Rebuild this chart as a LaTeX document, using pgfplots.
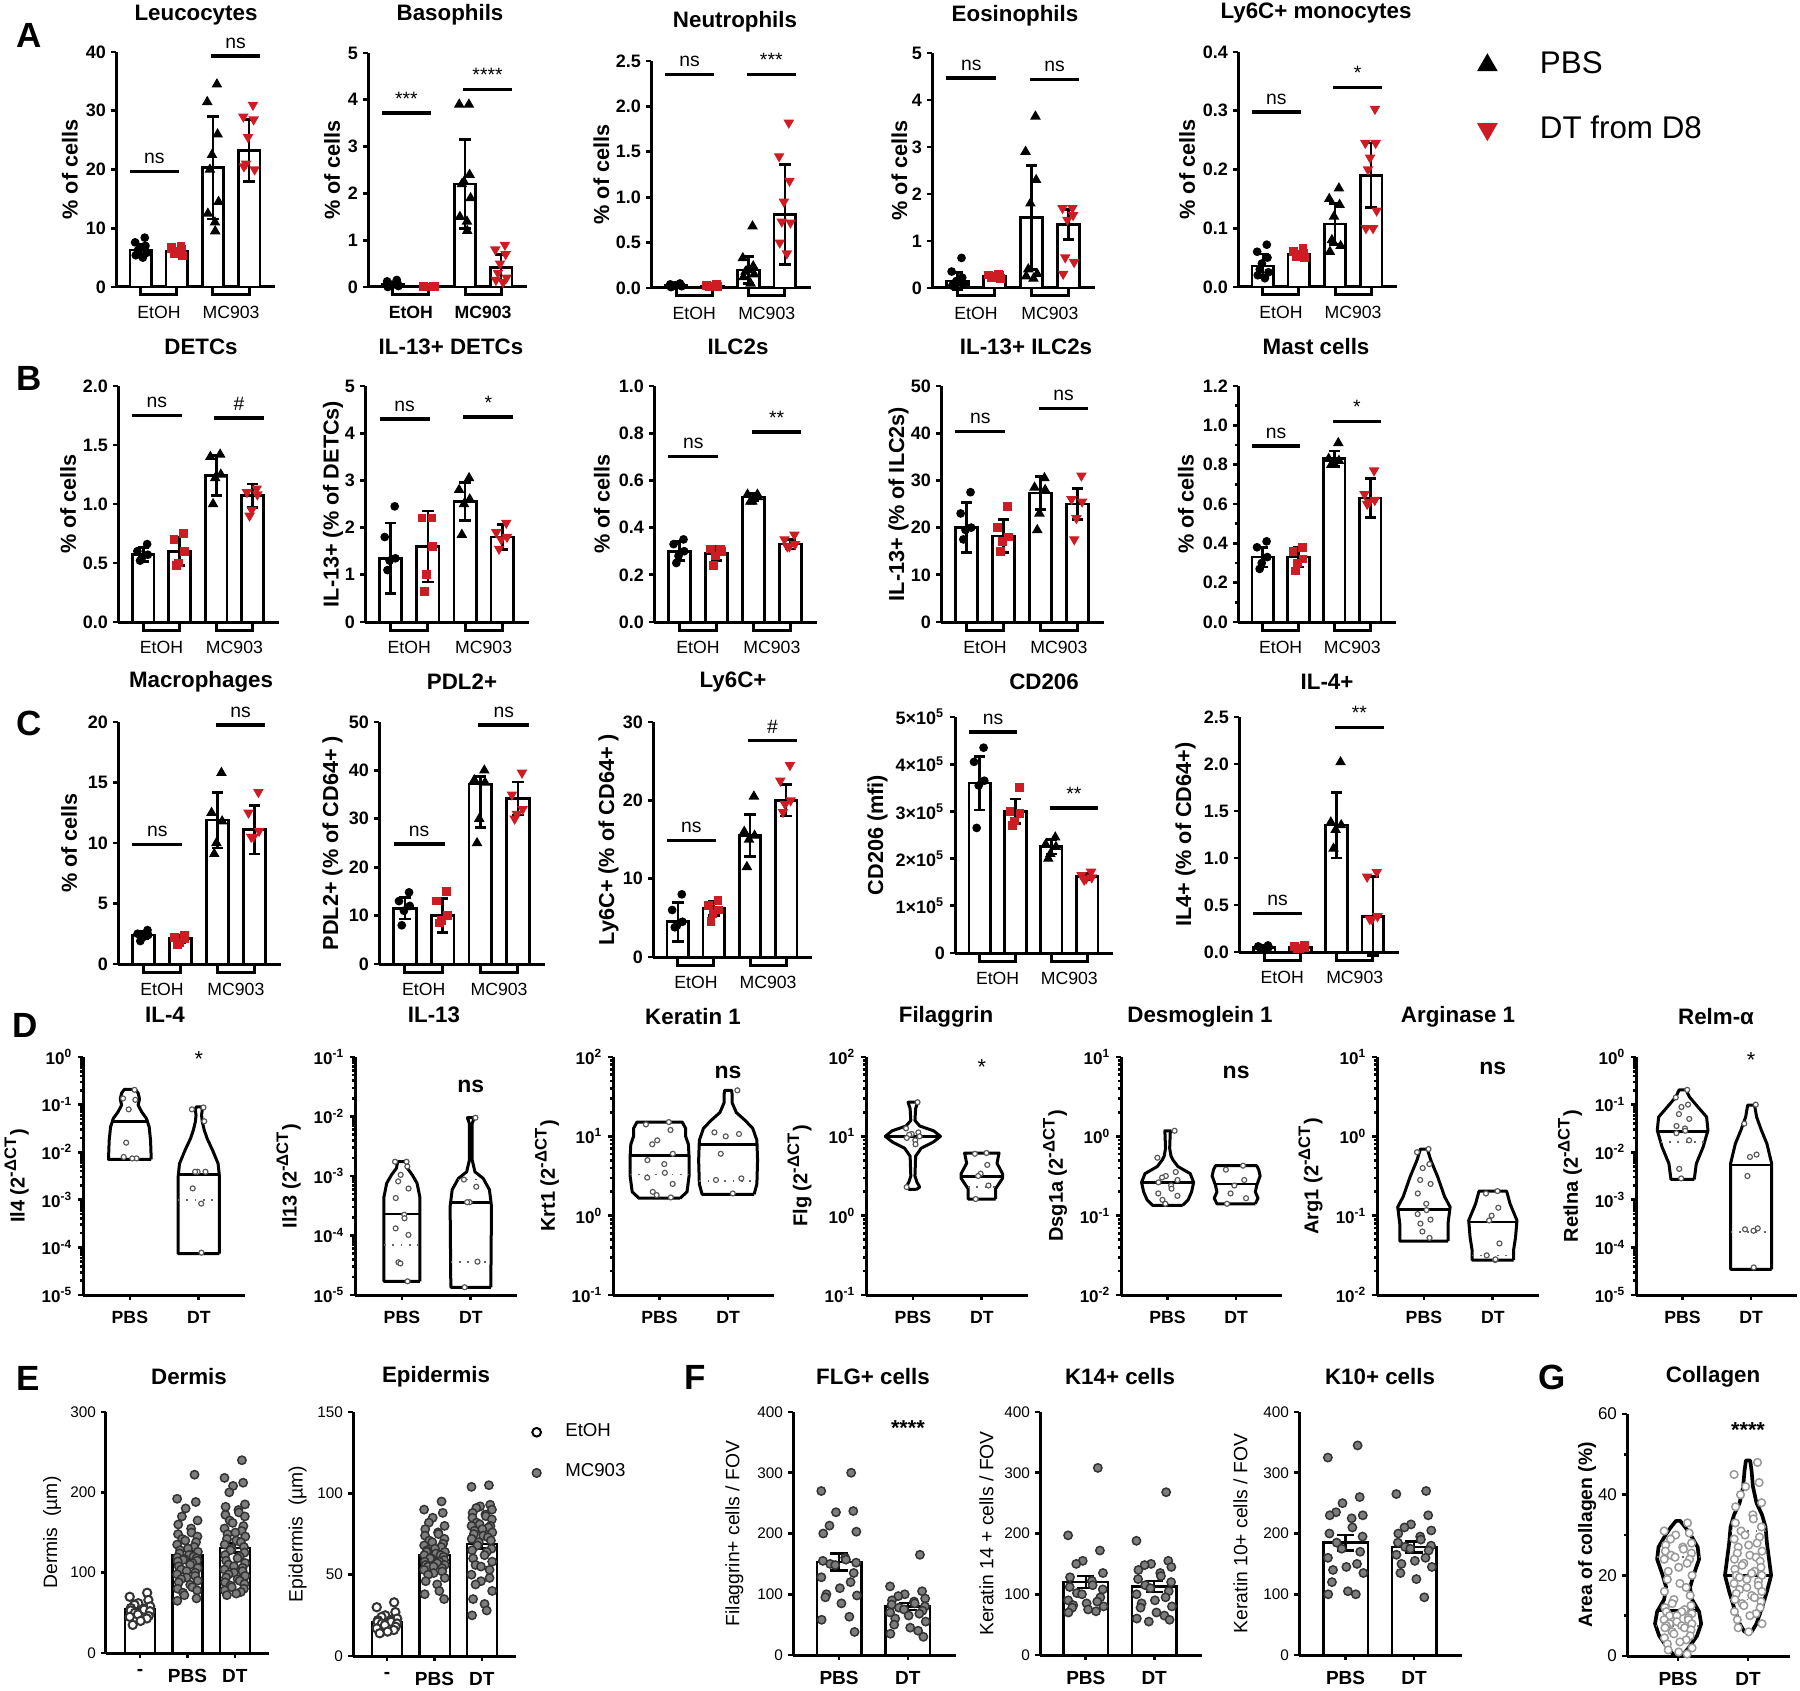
\documentclass[border=0pt]{standalone}
\usepackage{fontspec}
\setmainfont{Liberation Sans}
\usepackage{pgfplots}
\pgfplotsset{compat=1.18}
\definecolor{dred}{RGB}{206,28,36}
\definecolor{pgray}{RGB}{125,125,125}
\newcommand\fs[1]{\fontsize{#1}{#1}\selectfont}
\def\jit{0.16}
\newcommand\pts[3]{%
  \gdef\ptlist{}%
  \foreach \yv [count=\ii] in {#3} {%
    \pgfmathsetmacro\xo{#2+\jit*sin(\ii*137.5)}%
    \xdef\ptlist{\ptlist(\xo,\yv)}}%
  \edef\tmp{\noexpand\addplot[#1] coordinates {\ptlist};}\tmp}
\newcommand\violin[3][violin]{%
  \gdef\vr{}\gdef\vl{}%
  \foreach \yy/\ww [count=\ii] in {#3} {%
    \pgfmathsetmacro\xa{#2+\ww}\pgfmathsetmacro\xb{#2-\ww}%
    \ifnum\ii=1 \xdef\vf{(\xa,\yy)}\fi
    \xdef\vr{\vr(\xa,\yy)}\xdef\vl{(\xb,\yy)\vl}}%
  \edef\tmp{\noexpand\addplot[#1] coordinates {\vr\vl\vf};}\tmp}
\newcommand\hl[4]{%
  \pgfmathsetmacro\xa{#1-#3}\pgfmathsetmacro\xb{#1+#3}%
  \edef\tmp{\noexpand\addplot[#4] coordinates {(\xa,#2)(\xb,#2)};}\tmp}
\newcommand\brk[2]{\draw[line width=0.9pt] (axis cs:#1,0) -- ([yshift=-2.4pt]axis cs:#1,0) -- ([yshift=-2.4pt]axis cs:#2,0) -- (axis cs:#2,0);}
\newcommand\sig[4]{\draw[line width=1pt] (axis cs:#1,#3) -- (axis cs:#2,#3) node[midway, above, inner sep=1.8pt, font=\fs{5.8}] {#4};}
\newcommand\tn[3]{\node[font=\fs{6.7}\bfseries] at ({#1*0.3pt},{(1690-#2)*0.3pt}) {#3};}
\newcommand\lt[3]{\node[font=\fs{10.5}\bfseries] at ({#1*0.3pt},{(1690-#2)*0.3pt}) {#3};}
\def\mlist{-9}
\foreach \d in {-5,...,2}{\foreach \k in {0.301,0.477,0.602,0.699,0.778,0.845,0.903,0.954}{\pgfmathsetmacro\v{\d+\k}\xdef\mlist{\mlist,\v}}}
\pgfplotsset{
 base/.style={scale only axis, axis lines*=left, axis line style={line width=0.9pt,-},
   tick style={line width=0.8pt, black}, tick align=outside,
   major tick length=1.4pt, minor tick length=0.9pt, clip=false,
   /pgf/number format/assume math mode=true, yticklabel style={xshift=1.9pt}},
 yl/.style={ylabel style={at={(axis description cs:#1,0.5)}, anchor=center}},
 barax/.style={base, xmin=0.31, xmax=4.72, ymin=0, xtick={1.5,3.5}, xticklabels={EtOH,MC903},
   xtick style={draw=none}, xticklabel style={font=\fs{5.3}, yshift=-0.9pt},
   yticklabel style={font=\fs{5.4}\bfseries}, ylabel style={font=\fs{6.5}\bfseries}},
 dec/.style={yticklabel style={/pgf/number format/fixed, /pgf/number format/fixed zerofill, /pgf/number format/precision=1}},
 bar/.style={ybar, bar width=0.6, bar shift=0pt, fill=white, draw=black, line width=0.8pt},
 pC/.style={only marks, mark=*, mark size=1.1pt, black},
 pS/.style={only marks, mark=square*, mark size=1.1pt, dred},
 pT/.style={only marks, mark=triangle*, mark size=1.45pt, black},
 pV/.style={only marks, mark=triangle*, mark size=1.45pt, dred, mark options={rotate=180}},
 errb/.style={draw=none, mark=none, error bars/.cd, y dir=both, y explicit, error mark=-,
   error bar style={draw=black, line width=0.8pt}, error mark options={rotate=90, draw=black, line width=0.8pt, mark size=1.7pt}},
 errb2/.style={draw=none, mark=none, error bars/.cd, y dir=both, y explicit, error mark=-,
   error bar style={draw=black, line width=0.7pt}, error mark options={rotate=90, draw=black, line width=0.7pt, mark size=2.6pt}},
 violin/.style={line width=0.9pt, draw=black, fill=white, line join=round, mark=none},
 violinG/.style={line width=1.1pt, draw=black, fill=white, line join=round, mark=none},
 med/.style={line width=0.8pt, black},
 qrt/.style={line width=0.5pt, black!60, dotted},
 dpt/.style={only marks, mark=*, mark size=0.75pt, mark options={fill=white, draw=black!65, line width=0.35pt}},
 Dax/.style={base, xmin=0.32, xmax=2.67, xtick={1,2}, xticklabels={PBS,DT}, yl=-0.41,
   xticklabel style={font=\fs{5.3}\bfseries}, yticklabel style={font=\fs{5.1}\bfseries},
   ylabel style={font=\fs{6}\bfseries}, minor ytick/.expanded=\mlist,
   yticklabel={10\textsuperscript{\pgfmathprintnumber{\tick}}}},
 EFax/.style={base, ymin=0, xticklabel style={font=\fs{5.7}\bfseries},
   yticklabel style={font=\fs{4.6}}, ylabel style={font=\fs{5.8}}},
 ebar/.style={ybar, bar shift=0pt, fill=white, draw=black, line width=0.7pt},
 gpt/.style={only marks, mark=*, mark size=1.25pt, mark options={fill=pgray, draw=black!80, line width=0.45pt}},
 wpt/.style={only marks, mark=*, mark size=1.25pt, mark options={fill=white, draw=black!80, line width=0.6pt}},
 cpt/.style={only marks, mark=*, mark size=1.15pt, mark options={fill=white, draw=black!40, line width=0.45pt}},
 legimg/.style={legend image code/.code={\draw[##1] plot coordinates {(0cm,0cm)};}},
}
\begin{document}
\begin{tikzpicture}
\useasboundingbox (0,0) rectangle (540pt,507pt);
% ---------------- Row A
\begin{axis}[barax, yl=-0.29, at={(34.8pt,420.9pt)}, width=47.7pt, height=70.5pt, ymax=40, ytick={0,10,20,30,40}, ylabel={\% of cells}]
\addplot[bar] coordinates {(1,6.3)(2,6.0)(3,20.3)(4,23.2)};
\pts{pC}{1}{8.4,7.6,7.0,6.6,6.2,5.8,5.4,5.0,6.8}
\pts{pS}{2}{7.0,6.6,6.4,6.0,5.6,5.3,6.8}
\pts{pT}{3}{34.5,31.5,26,22.5,20,14.5,12.5,11,9.5}
\pts{pV}{4}{31,29,28.5,25.5,21,20,20.5}
\addplot[errb] coordinates {(1,6.3)+-(0,0.9)(2,6.0)+-(0,0.6)(3,20.3)+-(0,8.7)(4,23.2)+-(0,5.3)};
\brk{1}{2}\brk{3}{4}
\sig{0.7}{2.05}{19.7}{ns}\sig{2.95}{4.3}{39.3}{ns}
\end{axis}
\begin{axis}[barax, yl=-0.226, at={(110.4pt,420.9pt)}, width=47.7pt, height=70.2pt, ymax=5, ytick={0,...,5}, ylabel={\% of cells}, xticklabel style={font=\fs{5.3}\bfseries}]
\addplot[bar] coordinates {(1,0.05)(2,0.01)(3,2.2)(4,0.42)};
\pts{pC}{1}{0.15,0.12,0.08,0.05,0.03,0.02,0.0,0.06}
\pts{pS}{2}{0.02,0.01,0.01,0.0,0.0,0.01}
\pts{pT}{3}{3.9,3.9,2.4,2.25,2.2,1.9,1.5,1.4,1.2}
\pts{pV}{4}{0.9,0.8,0.7,0.5,0.3,0.2,0.15,0.1}
\addplot[errb] coordinates {(1,0.05)+-(0,0.05)(2,0.01)+-(0,0.005)(3,2.2)+-(0,0.95)(4,0.42)+-(0,0.27)};
\brk{1}{2}\brk{3}{4}
\sig{0.7}{2.05}{3.72}{***}\sig{2.95}{4.3}{4.22}{****}
\end{axis}
\begin{axis}[barax, dec, yl=-0.31, at={(195.3pt,420.6pt)}, width=48pt, height=68.1pt, ymax=2.5, ytick={0,0.5,1,1.5,2,2.5}, ylabel={\% of cells}]
\addplot[bar] coordinates {(1,0.03)(2,0.02)(3,0.2)(4,0.81)};
\pts{pC}{1}{0.05,0.04,0.03,0.03,0.02,0.02,0.01}
\pts{pS}{2}{0.04,0.03,0.02,0.02,0.01,0.02}
\pts{pT}{3}{0.68,0.33,0.24,0.2,0.18,0.15,0.12,0.05}
\pts{pV}{4}{1.82,1.45,1.18,0.95,0.73,0.72,0.5,0.38}
\addplot[errb] coordinates {(1,0.03)+-(0,0.01)(2,0.02)+-(0,0.01)(3,0.2)+-(0,0.15)(4,0.81)+-(0,0.55)};
\brk{1}{2}\brk{3}{4}
\sig{0.7}{2.05}{2.35}{ns}\sig{2.95}{4.3}{2.35}{***}
\end{axis}
\begin{axis}[barax, yl=-0.2, at={(279.6pt,420.6pt)}, width=48.9pt, height=70.5pt, ymax=5, ytick={0,...,5}, ylabel={\% of cells}]
\addplot[bar] coordinates {(1,0.15)(2,0.25)(3,1.5)(4,1.35)};
\pts{pC}{1}{0.64,0.35,0.22,0.15,0.1,0.08,0.05,0.12}
\pts{pS}{2}{0.3,0.28,0.26,0.24,0.22,0.2}
\pts{pT}{3}{3.65,2.9,2.3,1.8,0.4,0.3,0.25,0.2}
\pts{pV}{4}{1.7,1.7,1.55,1.45,0.65,0.55,0.3}
\addplot[errb] coordinates {(1,0.15)+-(0,0.18)(2,0.25)+-(0,0.04)(3,1.5)+-(0,1.1)(4,1.35)+-(0,0.32)};
\brk{1}{2}\brk{3}{4}
\sig{0.7}{2.05}{4.47}{ns}\sig{2.95}{4.3}{4.43}{ns}
\end{axis}
\begin{axis}[barax, dec, yl=-0.32, at={(371.4pt,420.9pt)}, width=47.7pt, height=70.5pt, ymax=0.4, ytick={0,0.1,0.2,0.3,0.4}, ylabel={\% of cells},
  legimg, legend cell align=left,
  legend style={at={(axis description cs:1.506,1.032)}, anchor=north west, draw=none, fill=none, font=\fs{9.4}, inner sep=0pt, row sep=7pt, /tikz/every odd column/.append style={column sep=11pt}}]
\addlegendimage{only marks, mark=triangle*, mark size=3.2pt, black}
\addlegendentry{PBS}
\addlegendimage{only marks, mark=triangle*, mark size=3.2pt, dred, mark options={rotate=180}}
\addlegendentry{DT from D8}
\addplot[bar] coordinates {(1,0.036)(2,0.056)(3,0.107)(4,0.19)};
\pts{pC}{1}{0.072,0.06,0.05,0.04,0.03,0.025,0.02,0.015}
\pts{pS}{2}{0.065,0.06,0.058,0.055,0.052,0.05}
\pts{pT}{3}{0.168,0.15,0.14,0.12,0.08,0.07,0.06}
\pts{pV}{4}{0.303,0.245,0.245,0.22,0.2,0.13,0.1,0.1}
\addplot[errb] coordinates {(1,0.036)+-(0,0.02)(2,0.056)+-(0,0.005)(3,0.107)+-(0,0.035)(4,0.19)+-(0,0.055)};
\brk{1}{2}\brk{3}{4}
\sig{0.7}{2.05}{0.298}{ns}\sig{2.95}{4.3}{0.34}{*}
\end{axis}
% ---------------- Row B
\begin{axis}[barax, dec, yl=-0.31, at={(35.4pt,320.4pt)}, width=48.3pt, height=70.8pt, ymax=2, ytick={0,0.5,1,1.5,2}, ylabel={\% of cells}]
\addplot[bar] coordinates {(1,0.57)(2,0.6)(3,1.24)(4,1.07)};
\pts{pC}{1}{0.66,0.6,0.57,0.55,0.52}
\pts{pS}{2}{0.75,0.7,0.6,0.5,0.48}
\pts{pT}{3}{1.42,1.4,1.25,1.22,1.0}
\pts{pV}{4}{1.13,1.1,1.08,0.95,0.9}
\addplot[errb] coordinates {(1,0.57)+-(0,0.06)(2,0.6)+-(0,0.12)(3,1.24)+-(0,0.17)(4,1.07)+-(0,0.1)};
\brk{1}{2}\brk{3}{4}
\sig{0.7}{2.05}{1.75}{ns}\sig{2.95}{4.3}{1.73}{\#}
\end{axis}
\begin{axis}[barax, yl=-0.195, at={(109.5pt,320.4pt)}, width=49.2pt, height=70.8pt, ymax=5, ytick={0,...,5}, ylabel={IL-13+ (\% of DETCs)}]
\addplot[bar] coordinates {(1,1.35)(2,1.6)(3,2.55)(4,1.8)};
\pts{pC}{1}{2.45,1.8,1.35,1.3,1.1}
\pts{pS}{2}{2.2,2.2,1.6,1.0,0.65}
\pts{pT}{3}{3.05,2.8,2.6,2.5,1.85}
\pts{pV}{4}{2.1,1.9,1.8,1.75,1.55}
\addplot[errb] coordinates {(1,1.35)+-(0,0.75)(2,1.6)+-(0,0.75)(3,2.55)+-(0,0.4)(4,1.8)+-(0,0.26)};
\brk{1}{2}\brk{3}{4}
\sig{0.7}{2.05}{4.3}{ns}\sig{2.95}{4.3}{4.34}{*}
\end{axis}
\begin{axis}[barax, dec, yl=-0.32, at={(196.2pt,320.4pt)}, width=48.9pt, height=70.8pt, ymax=1, ytick={0,0.2,0.4,0.6,0.8,1}, ylabel={\% of cells}]
\addplot[bar] coordinates {(1,0.3)(2,0.29)(3,0.53)(4,0.33)};
\pts{pC}{1}{0.35,0.33,0.3,0.28,0.25}
\pts{pS}{2}{0.31,0.31,0.3,0.28,0.24}
\pts{pT}{3}{0.54,0.54,0.53,0.51,0.51}
\pts{pV}{4}{0.37,0.35,0.33,0.32,0.32}
\addplot[errb] coordinates {(1,0.3)+-(0,0.04)(2,0.29)+-(0,0.03)(3,0.53)+-(0,0.015)(4,0.33)+-(0,0.02)};
\brk{1}{2}\brk{3}{4}
\sig{0.7}{2.05}{0.70}{ns}\sig{2.95}{4.3}{0.805}{**}
\end{axis}
\begin{axis}[barax, yl=-0.26, at={(282.3pt,320.4pt)}, width=48.9pt, height=70.8pt, ymax=50, ytick={0,10,...,50}, ylabel={IL-13+ (\% of ILC2s)}]
\addplot[bar] coordinates {(1,20)(2,18.2)(3,27.3)(4,25)};
\pts{pC}{1}{27.5,23,20,19.5,17.5}
\pts{pS}{2}{24.5,20,18,17,15}
\pts{pT}{3}{30.5,28.5,28,23,19.5}
\pts{pV}{4}{31,26,25.5,22,17.5}
\addplot[errb] coordinates {(1,20)+-(0,5.3)(2,18.2)+-(0,3.5)(3,27.3)+-(0,3.5)(4,25)+-(0,3.3)};
\brk{1}{2}\brk{3}{4}
\sig{0.7}{2.05}{40.3}{ns}\sig{2.95}{4.3}{45.3}{ns}
\end{axis}
\begin{axis}[barax, dec, yl=-0.33, at={(371.4pt,320.4pt)}, width=47.4pt, height=70.8pt, ymax=1.2, ytick={0,0.2,0.4,0.6,0.8,1,1.2}, minor ytick={0.1,0.3,0.5,0.7,0.9,1.1}, ylabel={\% of cells}]
\addplot[bar] coordinates {(1,0.33)(2,0.33)(3,0.83)(4,0.63)};
\pts{pC}{1}{0.41,0.38,0.33,0.3,0.27}
\pts{pS}{2}{0.38,0.36,0.32,0.3,0.26}
\pts{pT}{3}{0.91,0.83,0.82,0.81,0.8}
\pts{pV}{4}{0.77,0.65,0.62,0.61,0.6}
\addplot[errb] coordinates {(1,0.33)+-(0,0.05)(2,0.33)+-(0,0.05)(3,0.83)+-(0,0.04)(4,0.63)+-(0,0.1)};
\brk{1}{2}\brk{3}{4}
\sig{0.7}{2.05}{0.895}{ns}\sig{2.95}{4.3}{1.02}{*}
\end{axis}
% ---------------- Row C
\begin{axis}[barax, yl=-0.3, at={(35.4pt,217.8pt)}, width=48.9pt, height=72.6pt, ymax=20, ytick={0,5,...,20}, ylabel={\% of cells}]
\addplot[bar] coordinates {(1,2.4)(2,2.1)(3,11.9)(4,11.1)};
\pts{pC}{1}{2.8,2.5,2.4,2.2,1.9}
\pts{pS}{2}{2.4,2.2,2.1,1.8,1.6}
\pts{pT}{3}{15.8,12.5,11.8,10,9.1}
\pts{pV}{4}{14.2,12.5,11,10.5,10.5}
\addplot[errb] coordinates {(1,2.4)+-(0,0.3)(2,2.1)+-(0,0.3)(3,11.9)+-(0,2.3)(4,11.1)+-(0,2)};
\brk{1}{2}\brk{3}{4}
\sig{0.7}{2.05}{9.9}{ns}\sig{2.95}{4.3}{19.75}{ns}
\end{axis}
\begin{axis}[barax, yl=-0.28, at={(113.7pt,217.8pt)}, width=49.8pt, height=72.6pt, ymax=50, ytick={0,10,...,50}, ylabel={PDL2+ (\% of CD64+ )}]
\addplot[bar] coordinates {(1,11.5)(2,10)(3,37.2)(4,34.2)};
\pts{pC}{1}{14.8,13,12,11,8}
\pts{pS}{2}{15,13,10,9,8.5}
\pts{pT}{3}{40,38,37.5,30,25}
\pts{pV}{4}{39.5,35,32,31,30}
\addplot[errb] coordinates {(1,11.5)+-(0,2.2)(2,10)+-(0,3.5)(3,37.2)+=(0,1.5)-=(0,9)(4,34.2)+-(0,3.4)};
\brk{1}{2}\brk{3}{4}
\sig{0.7}{2.05}{24.8}{ns}\sig{2.95}{4.3}{49.4}{ns}
\end{axis}
\begin{axis}[barax, yl=-0.28, at={(195.9pt,219.9pt)}, width=47.7pt, height=70.5pt, ymax=30, ytick={0,10,20,30}, ylabel={Ly6C+ (\% of CD64+ )}]
\addplot[bar] coordinates {(1,4.5)(2,6.2)(3,15.5)(4,20)};
\pts{pC}{1}{8,6,4.5,4,3.8}
\pts{pS}{2}{7.2,6.6,6,5.5,4.5}
\pts{pT}{3}{20.5,16,15.5,15,11.5}
\pts{pV}{4}{24.5,22.5,20,19.5,18.5}
\addplot[errb] coordinates {(1,4.5)+-(0,2.5)(2,6.2)+-(0,0.9)(3,15.5)+-(0,2.7)(4,20)+-(0,2)};
\brk{1}{2}\brk{3}{4}
\sig{0.7}{2.05}{14.9}{ns}\sig{2.95}{4.3}{27.6}{\#}
\end{axis}
\begin{axis}[barax, yl=-0.49, at={(286.5pt,221.1pt)}, width=47.4pt, height=70.8pt, ymax=500000, ytick={0,100000,200000,300000,400000,500000}, scaled y ticks=false,
  yticklabels={0,1×10\textsuperscript{5},2×10\textsuperscript{5},3×10\textsuperscript{5},4×10\textsuperscript{5},5×10\textsuperscript{5}}, ylabel={CD206 (mfi)}]
\addplot[bar] coordinates {(1,360000)(2,300000)(3,225000)(4,162000)};
\pts{pC}{1}{435000,405000,365000,355000,265000}
\pts{pS}{2}{350000,300000,295000,280000,270000}
\pts{pT}{3}{245000,230000,225000,210000,200000}
\pts{pV}{4}{172000,165000,160000,158000,155000}
\addplot[errb] coordinates {(1,360000)+-(0,57000)(2,300000)+-(0,26000)(3,225000)+-(0,15000)(4,162000)+-(0,6000)};
\brk{1}{2}\brk{3}{4}
\sig{0.7}{2.05}{468000}{ns}\sig{2.95}{4.3}{307000}{**}
\end{axis}
\begin{axis}[barax, dec, yl=-0.335, at={(371.7pt,221.4pt)}, width=48pt, height=70.5pt, ymax=2.5, ytick={0,0.5,1,1.5,2,2.5}, ylabel={IL4+ (\% of CD64+)}]
\addplot[bar] coordinates {(1,0.05)(2,0.05)(3,1.35)(4,0.38)};
\pts{pC}{1}{0.07,0.06,0.05,0.04,0.03}
\pts{pS}{2}{0.07,0.06,0.05,0.04,0.04}
\pts{pT}{3}{2.02,1.38,1.35,1.3,1.1}
\pts{pV}{4}{0.85,0.8,0.38,0.35,0.35}
\addplot[errb] coordinates {(1,0.05)+-(0,0.015)(2,0.05)+-(0,0.015)(3,1.35)+-(0,0.35)(4,0.38)+-(0,0.42)};
\brk{1}{2}\brk{3}{4}
\sig{0.7}{2.05}{0.41}{ns}\sig{2.95}{4.3}{2.39}{**}
\end{axis}
% ---------------- Row D
\def\jit{0.1}
\begin{axis}[Dax, at={(24.9pt,118.5pt)}, width=48.6pt, height=71.4pt, ymin=-5, ymax=0, ytick={-5,...,0}, ylabel={Il4 (2\textsuperscript{-ΔCT})}]
\violin{1}{-2.15/0.31, -1.75/0.30, -1.47/0.28, -1.29/0.24, -1.15/0.17, -1.01/0.12, -0.88/0.14, -0.76/0.12, -0.68/0.08}
\violin{2}{-4.13/0.3, -2.52/0.3, -2.24/0.28, -1.96/0.2, -1.71/0.12, -1.54/0.08, -1.36/0.05, -1.22/0.04, -1.12/0.05, -1.05/0.04}
\hl{1}{-1.35}{0.245}{med}\hl{2}{-2.47}{0.3}{med}\hl{2}{-3.0}{0.3}{qrt}
\pts{dpt}{1}{-0.69,-0.87,-0.90,-1.10,-1.80,-2.13,-2.10,-2.13}
\pts{dpt}{2}{-1.06,-1.10,-1.35,-2.41,-2.41,-2.41,-2.76,-3.08,-4.11}
\node[font=\fs{6.5}] at (axis cs:2,-0.05) {*};
\end{axis}
\begin{axis}[Dax, at={(106.5pt,118.5pt)}, width=48.6pt, height=71.4pt, ymin=-5, ymax=-1, ytick={-5,...,-1}, ylabel={Il13 (2\textsuperscript{-ΔCT})}]
\violin{1}{-4.77/0.26, -3.35/0.26, -3.12/0.22, -2.98/0.15, -2.87/0.08, -2.76/0.06}
\violin{2}{-4.87/0.29, -3.51/0.3, -3.23/0.27, -3.04/0.18, -2.93/0.06, -2.73/0.02, -2.12/0.02, -2.02/0.05}
\hl{1}{-3.64}{0.26}{med}\hl{1}{-4.16}{0.26}{qrt}
\hl{2}{-3.44}{0.3}{med}\hl{2}{-4.44}{0.29}{qrt}\hl{2}{-3.06}{0.18}{qrt}
\pts{dpt}{1}{-2.76,-2.76,-2.84,-2.98,-3.09,-3.21,-3.37,-3.65,-3.71,-3.88,-3.99,-4.45,-4.47,-4.77}
\pts{dpt}{2}{-2.02,-3.06,-3.18,-3.44,-3.44,-4.44,-4.87}
\node[font=\fs{6.9}\bfseries] at (axis cs:2,-1.5) {ns};
\end{axis}
\begin{axis}[Dax, at={(183.9pt,118.5pt)}, width=48.3pt, height=71.4pt, ymin=-1, ymax=2, ytick={-1,...,2}, ylabel={Krt1 (2\textsuperscript{-ΔCT})}]
\violin{1}{0.22/0.3, 0.3/0.4, 0.5/0.43, 0.75/0.43, 0.9/0.42, 1.0/0.38, 1.1/0.38, 1.18/0.33}
\violin{2}{0.27/0.38, 0.4/0.42, 0.7/0.43, 0.95/0.42, 1.1/0.36, 1.2/0.25, 1.3/0.12, 1.42/0.06, 1.52/0.06, 1.58/0.05}
\hl{1}{0.76}{0.43}{med}\hl{1}{0.52}{0.43}{qrt}
\hl{2}{0.90}{0.42}{med}\hl{2}{0.44}{0.42}{qrt}
\def\jit{0.2}
\pts{dpt}{1}{1.18,1.15,1.08,0.95,0.9,0.78,0.7,0.65,0.54,0.48,0.40,0.30,0.26,0.23}
\pts{dpt}{2}{1.58,1.05,1.03,1.0,0.78,0.47,0.45,0.28}
\node[font=\fs{6.9}\bfseries] at (axis cs:2,1.81) {ns};
\end{axis}
\def\jit{0.1}
\begin{axis}[Dax, at={(259.8pt,118.5pt)}, width=48.6pt, height=71.4pt, ymin=-1, ymax=2, ytick={-1,...,2}, ylabel={Flg (2\textsuperscript{-ΔCT})}]
\violin{1}{0.33/0.05, 0.36/0.1, 0.42/0.06, 0.5/0.03, 0.75/0.04, 0.85/0.12, 0.93/0.3, 1.0/0.4, 1.07/0.3, 1.13/0.1, 1.2/0.03, 1.35/0.04, 1.43/0.07}
\violin{2}{0.21/0.2, 0.34/0.2, 0.47/0.3, 0.53/0.3, 0.66/0.22, 0.79/0.25}
\hl{1}{1.0}{0.4}{med}
\hl{2}{0.49}{0.3}{med}\hl{2}{0.36}{0.2}{qrt}
\pts{dpt}{1}{1.43,1.1,1.05,1.03,1.02,1.0,0.98,0.95,0.9,0.36}
\pts{dpt}{2}{0.79,0.78,0.64,0.53,0.50,0.38,0.21}
\node[font=\fs{6.5}] at (axis cs:2,1.87) {*};
\end{axis}
\begin{axis}[Dax, at={(336.3pt,118.5pt)}, width=48.3pt, height=71.4pt, ymin=-2, ymax=1, ytick={-2,...,1}, ylabel={Dsg1a (2\textsuperscript{-ΔCT})}]
\violin{1}{-0.87/0.22, -0.8/0.3, -0.7/0.35, -0.58/0.38, -0.47/0.33, -0.38/0.15, -0.3/0.08, -0.25/0.05, -0.15/0.03, 0.07/0.04}
\violin{2}{-0.85/0.28, -0.78/0.32, -0.7/0.28, -0.62/0.3, -0.5/0.35, -0.42/0.33, -0.37/0.3}
\hl{1}{-0.58}{0.38}{med}\hl{2}{-0.6}{0.3}{med}
\def\jit{0.15}
\pts{dpt}{1}{0.07,-0.27,-0.45,-0.5,-0.52,-0.55,-0.58,-0.62,-0.66,-0.72,-0.75,-0.8,-0.85}
\pts{dpt}{2}{-0.37,-0.42,-0.55,-0.62,-0.72,-0.78,-0.85}
\node[font=\fs{6.9}\bfseries] at (axis cs:2,0.81) {ns};
\end{axis}
\begin{axis}[Dax, at={(413.1pt,118.5pt)}, width=48.6pt, height=71.4pt, ymin=-2, ymax=1, ytick={-2,...,1}, ylabel={Arg1 (2\textsuperscript{-ΔCT})}]
\violin{1}{-1.32/0.35, -1.1/0.35, -0.89/0.38, -0.76/0.3, -0.51/0.2, -0.3/0.1, -0.16/0.05}
\violin{2}{-1.56/0.3, -1.44/0.3, -1.27/0.33, -1.06/0.35, -0.85/0.25, -0.69/0.2}
\hl{1}{-0.92}{0.37}{med}\hl{2}{-1.08}{0.35}{med}\hl{2}{-1.5}{0.3}{qrt}
\pts{dpt}{1}{-0.16,-0.2,-0.35,-0.4,-0.55,-0.6,-0.72,-0.85,-0.93,-0.98,-1.05,-1.1,-1.2,-1.28}
\pts{dpt}{2}{-0.69,-0.72,-0.9,-1.0,-1.06,-1.35,-1.5,-1.56,-1.55}
\node[font=\fs{6.9}\bfseries] at (axis cs:2,0.85) {ns};
\end{axis}
\begin{axis}[Dax, at={(490.8pt,118.5pt)}, width=48.3pt, height=71.4pt, ymin=-5, ymax=0, ytick={-5,...,0}, ylabel={Retlna (2\textsuperscript{-ΔCT})}]
\violin{1}{-2.57/0.17, -2.24/0.2, -1.89/0.3, -1.54/0.37, -1.26/0.35, -1.01/0.2, -0.84/0.1, -0.69/0.05}
\violin{2}{-4.46/0.3, -2.24/0.3, -1.82/0.23, -1.54/0.15, -1.26/0.08, -1.01/0.05}
\hl{1}{-1.57}{0.37}{med}\hl{1}{-1.78}{0.32}{qrt}
\hl{2}{-2.27}{0.3}{med}\hl{2}{-3.68}{0.3}{qrt}
\pts{dpt}{1}{-0.69,-0.85,-1.0,-1.05,-1.2,-1.3,-1.45,-1.5,-1.55,-1.6,-1.75,-2.35,-2.55}
\pts{dpt}{2}{-1.0,-1.4,-2.05,-2.1,-2.5,-3.6,-3.62,-3.65,-4.42}
\node[font=\fs{6.5}] at (axis cs:2,-0.07) {*};
\end{axis}
% ---------------- Row E
\def\jit{0.22}
\begin{axis}[EFax, yl=-0.33, at={(31.8pt,11.1pt)}, width=48.9pt, height=72.3pt, xmin=0.28, xmax=3.72, xtick={1,2,3}, xticklabels={-,PBS,DT}, ymax=300, ytick={0,100,200,300}, ylabel={Dermis\ \ (µm)}]
\addplot[ebar, bar width=0.64] coordinates {(1,55)(2,122)(3,131)};
\pts{wpt}{1}{75,70,66,62,60,58,56,55,54,53,52,50,48,46,45,43,40,35}
\pts{gpt}{2}{222,192,188,180,170,165,160,155,150,148,145,142,140,138,135,132,130,128,126,124,122,120,119,118,117,116,115,114,112,110,108,106,104,102,100,98,96,94,92,90,88,85,82,80,78,75,72,68,65}
\pts{gpt}{3}{240,218,212,208,200,185,182,178,175,172,170,165,162,158,155,152,150,148,145,142,140,138,135,132,130,128,125,122,120,118,115,112,110,108,106,104,102,100,98,96,94,92,90,88,86,84,82,80,78,76,74,72}
\addplot[errb2] coordinates {(1,55)+-(0,3)(2,122)+-(0,5)(3,131)+-(0,6)};
\end{axis}
\begin{axis}[EFax, yl=-0.34, at={(105.9pt,10.2pt)}, width=48.9pt, height=73.2pt, xmin=0.28, xmax=3.72, xtick={1,2,3}, xticklabels={-,PBS,DT}, ymax=150, ytick={0,50,100,150}, ylabel={Epidermis\ \ (µm)},
  legimg, legend cell align=left,
  legend style={at={(axis description cs:1.096,0.984)}, anchor=north west, draw=none, fill=none, font=\fs{5.6}, inner sep=0pt, row sep=2.8pt, /tikz/every odd column/.append style={column sep=5.3pt}}]
\addlegendimage{only marks, mark=*, mark size=1.3pt, mark options={fill=white, draw=black, line width=0.6pt}}
\addlegendentry{EtOH}
\addlegendimage{only marks, mark=*, mark size=1.3pt, mark options={fill=pgray, draw=black!80, line width=0.45pt}}
\addlegendentry{MC903}
\addplot[ebar, bar width=0.64] coordinates {(1,21)(2,62)(3,69)};
\pts{wpt}{1}{33,30,27,25,24,23,22,22,21,21,20,20,19,18,17,16,15,14}
\pts{gpt}{2}{95,90,88,85,82,80,78,76,75,74,72,71,70,69,68,67,66,65,64,64,63,62,62,61,60,60,59,58,58,57,56,56,55,55,54,53,52,51,50,48,46,44,40,38,35}
\pts{gpt}{3}{105,104,93,92,91,90,88,87,86,85,84,82,81,80,80,79,78,77,76,75,74,73,72,71,70,68,66,65,64,62,60,58,56,55,53,50,48,46,44,40,35,32,28,25}
\addplot[errb2] coordinates {(1,21)+-(0,1.2)(2,62)+-(0,2)(3,69)+-(0,3)};
\end{axis}
% ---------------- Row F
\def\jit{0.26}
\begin{axis}[EFax, yl=-0.36, at={(237.9pt,10.5pt)}, width=48.9pt, height=72.9pt, xmin=0.33, xmax=2.7, xtick={1,2}, xticklabels={PBS,DT}, ymax=400, ytick={0,100,...,400}, ylabel={Filaggrin+ cells / FOV}]
\addplot[ebar, bar width=0.65] coordinates {(1,153)(2,80)};
\pts{gpt}{1}{300,270,237,235,213,203,200,160,157,155,152,150,148,135,128,120,110,100,98,95,85,63,58,38}
\pts{gpt}{2}{165,113,105,100,97,93,90,88,85,83,80,78,75,73,70,68,65,60,55,50,45,40,35,30}
\addplot[errb2] coordinates {(1,153)+-(0,14)(2,80)+-(0,6)};
\node[font=\fs{6.5}\bfseries] at (axis cs:2,374) {****};
\end{axis}
\begin{axis}[EFax, yl=-0.33, at={(312pt,10.5pt)}, width=48.6pt, height=72.9pt, xmin=0.33, xmax=2.7, xtick={1,2}, xticklabels={PBS,DT}, ymax=400, ytick={0,100,...,400}, ylabel={Keratin 14 + cells / FOV}]
\addplot[ebar, bar width=0.65] coordinates {(1,120)(2,113)};
\pts{gpt}{1}{308,197,172,155,150,135,128,122,115,112,108,102,100,95,90,88,85,82,80,78,75,72,70}
\pts{gpt}{2}{268,188,155,150,148,145,140,135,130,125,120,115,110,105,100,95,90,85,80,78,70,65,60,58,55}
\addplot[errb2] coordinates {(1,120)+-(0,10)(2,113)+-(0,9)};
\end{axis}
\begin{axis}[EFax, yl=-0.36, at={(389.7pt,10.5pt)}, width=48.9pt, height=72.9pt, xmin=0.32, xmax=2.7, xtick={1,2}, xticklabels={PBS,DT}, ymax=400, ytick={0,100,...,400}, ylabel={Keratin 10+ cells / FOV}]
\addplot[ebar, bar width=0.65] coordinates {(1,185)(2,178)};
\pts{gpt}{1}{345,325,260,250,235,230,230,225,210,200,195,185,175,170,160,150,145,140,135,120,105,100,100}
\pts{gpt}{2}{270,265,230,215,210,205,200,195,190,185,180,178,175,172,165,160,155,150,145,135,125,95}
\addplot[errb2] coordinates {(1,185)+-(0,13)(2,178)+-(0,9)};
\end{axis}
% ---------------- Row G
\def\jit{0.2}
\begin{axis}[EFax, yl=-0.245, at={(488.1pt,10.2pt)}, width=48.9pt, height=72.6pt, xmin=0.27, xmax=2.6, xtick={1,2}, xticklabels={PBS,DT}, ymax=60, ytick={0,20,40,60}, minor ytick={10,30,50}, yticklabel style={font=\fs{5.1}}, ylabel style={font=\fs{5.8}\bfseries}, ylabel={Area of collagen (\%)}]
\violin[violinG]{1}{0/0.05, 2/0.15, 5/0.27, 8/0.33, 11/0.3, 14/0.2, 17/0.17, 20/0.22, 24/0.3, 27/0.28, 30/0.18, 32/0.1, 33.5/0.03}
\violin[violinG]{2}{6/0.05, 8/0.12, 12/0.2, 16/0.27, 20/0.33, 24/0.3, 28/0.27, 32/0.25, 35/0.2, 38/0.12, 42/0.07, 46/0.05, 48.5/0.03}
\pts{cpt}{1}{33,31,30.5,30,29,28,27.5,27,26.5,26,25.5,25,24.5,24,24,23,22,21,20,19,18,17,16,15,14,13,12.5,12,11.5,11,11,10.5,10,10,9.5,9,9,8.5,8,8,7.5,7.5,7,7,6.5,6,5.5,5,4.5,4,3.5,3,2,1.5,1,0.5}
\pts{cpt}{2}{48,45,43,42,40,38,37,35,34,33,32,31,30,29.5,29,28,27.5,27,26,25.5,25,24.5,24,23.5,23,22.5,22,21.5,21,20.5,20,20,19.5,19,18.5,18,17.5,17,16.5,16,15.5,15,14.5,14,13.5,13,12.5,12,11,10.5,10,9,8,7,6}
\hl{1}{11.3}{0.3}{med}\hl{1}{7.5}{0.32}{qrt}\hl{1}{24.5}{0.3}{qrt}
\hl{2}{20}{0.33}{med}\hl{2}{14}{0.26}{qrt}\hl{2}{31}{0.25}{qrt}
\node[font=\fs{6.5}\bfseries] at (axis cs:2,56) {****};
\end{axis}
% ---------------- titles and letters
\tn{196}{15}{Leucocytes}\tn{450}{15}{Basophils}\tn{735}{22}{Neutrophils}\tn{1015}{16}{Eosinophils}\tn{1316}{13}{Ly6C+ monocytes}
\tn{201}{347}{DETCs}\tn{451}{347}{IL-13+ DETCs}\tn{738}{347}{ILC2s}\tn{1026}{347}{IL-13+ ILC2s}\tn{1316}{347}{Mast cells}
\tn{201}{682}{Macrophages}\tn{462}{682}{PDL2+}\tn{733}{682}{Ly6C+}\tn{1044}{682}{CD206}\tn{1327}{682}{IL-4+}
\tn{165}{1015}{IL-4}\tn{434}{1015}{IL-13}\tn{693}{1017}{Keratin 1}\tn{946}{1017}{Filaggrin}\tn{1200}{1017}{Desmoglein 1}\tn{1458}{1017}{Arginase 1}\tn{1716}{1017}{Relm-α}
\tn{189}{1377}{Dermis}\tn{436}{1377}{Epidermis}\tn{873}{1377}{FLG+ cells}\tn{1120}{1377}{K14+ cells}\tn{1380}{1377}{K10+ cells}\tn{1713}{1377}{Collagen}
\lt{29}{35}{A}\lt{29}{378}{B}\lt{29}{723}{C}\lt{25}{1025}{D}\lt{28}{1378}{E}\lt{695}{1377}{F}\lt{1552}{1377}{G}
\end{tikzpicture}
\end{document}
